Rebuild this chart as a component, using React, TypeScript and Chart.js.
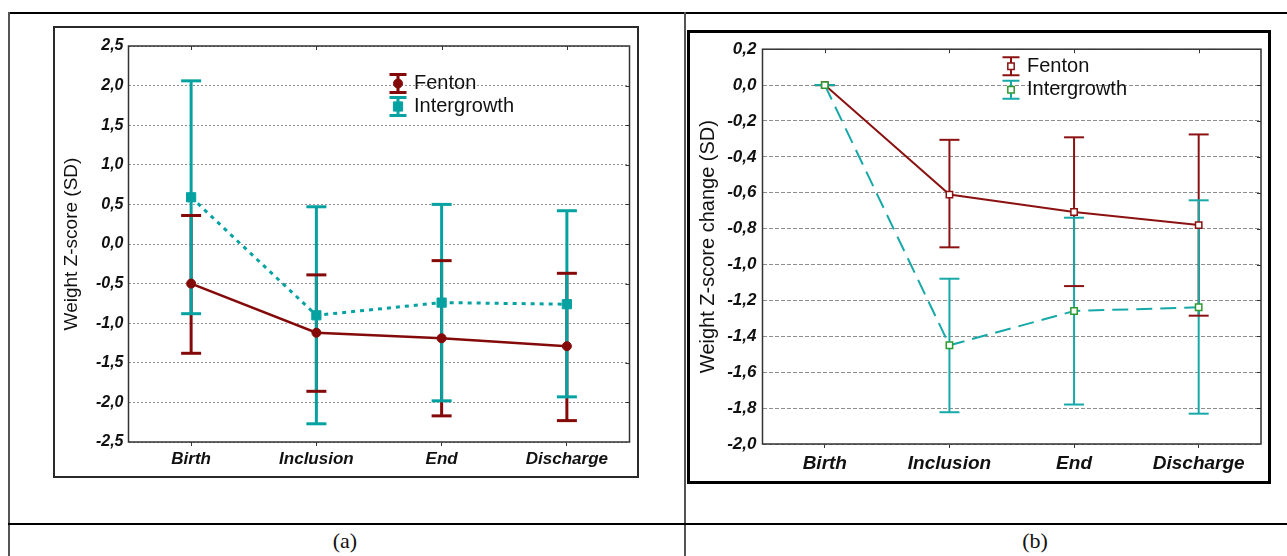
import React, { useEffect, useRef } from 'react';
import { Chart, registerables } from 'chart.js';

Chart.register(...registerables);

// ---------- data ----------
const categories = ['Birth', 'Inclusion', 'End', 'Discharge'];
const legendLabels = ['Fenton', 'Intergrowth'];

// Panel (a): Weight Z-score (SD)
const fentonMeanA = [-0.5, -1.12, -1.19, -1.29];
const fentonUpperA = [0.36, -0.39, -0.21, -0.37];
const fentonLowerA = [-1.38, -1.86, -2.17, -2.23];
const interMeanA = [0.59, -0.9, -0.74, -0.76];
const interUpperA = [2.06, 0.47, 0.5, 0.42];
const interLowerA = [-0.88, -2.27, -1.98, -1.93];
const yTicksA = [-2.5, -2.0, -1.5, -1.0, -0.5, 0.0, 0.5, 1.0, 1.5, 2.0, 2.5];

// Panel (b): Weight Z-score change (SD)
const fentonMeanB = [0, -0.61, -0.707, -0.78];
const fentonUpperB = [0, -0.305, -0.291, -0.275];
const fentonLowerB = [0, -0.904, -1.12, -1.285];
const interMeanB = [0, -1.45, -1.259, -1.238];
const interUpperB = [0, -1.079, -0.739, -0.642];
const interLowerB = [0, -1.823, -1.78, -1.831];
const yTicksB = [-2.0, -1.8, -1.6, -1.4, -1.2, -1.0, -0.8, -0.6, -0.4, -0.2, 0.0, 0.2];

const FONT = '"Liberation Sans", Arial, sans-serif';

type SeriesStyle = {
  color: string;
  markerStroke: string;
  markerFill: string;
  marker: 'circle' | 'rect';
  markerRadius: number;
  markerBorder: number;
  lineWidth: number;
  dash: number[];
  order: number;
};

type PanelProps = {
  width: number;
  height: number;
  yTitle: string;
  yTicks: number[];
  means: number[][];
  uppers: number[][];
  lowers: number[][];
  styles: SeriesStyle[];
  padTop: number;
  padRight: number;
  yAxisWidth: number;
  xAxisHeight: number;
  tickFont: number;
  xFont: number;
  titleFont: number;
  titlePad: number;
  yTickPad: number;
  xTickPad: number;
  gridDash: number[];
  barWidth: number;
  capHalf: number;
  legendX: number;
  legendY: number;
  legendGap: number;
  legendMarkerScale: number;
};

function fmt(v: number) {
  if (Math.abs(v) < 1e-9) return '0,0';
  return v.toFixed(1).replace('.', ',');
}

function drawMarker(ctx: CanvasRenderingContext2D, x: number, y: number, s: SeriesStyle, scale: number) {
  ctx.save();
  ctx.fillStyle = s.markerFill;
  ctx.strokeStyle = s.markerStroke;
  ctx.lineWidth = s.markerBorder;
  ctx.setLineDash([]);
  ctx.beginPath();
  if (s.marker === 'circle') {
    ctx.arc(x, y, s.markerRadius * scale, 0, Math.PI * 2);
  } else {
    const h = s.markerRadius * Math.SQRT1_2 * scale;
    ctx.rect(x - h, y - h, 2 * h, 2 * h);
  }
  ctx.fill();
  ctx.stroke();
  ctx.restore();
}

function Panel(p: PanelProps) {
  const ref = useRef<HTMLCanvasElement | null>(null);
  useEffect(() => {
    const canvas = ref.current;
    if (!canvas) return;
    const yMin = p.yTicks[0];
    const yMax = p.yTicks[p.yTicks.length - 1];
    const step = p.yTicks[1] - p.yTicks[0];

    const plugin = {
      id: 'errorAndFrame',
      beforeDatasetsDraw(chart: any) {
        const { ctx, scales } = chart;
        const x = scales.x;
        const y = scales.y;
        ctx.save();
        ctx.lineCap = 'butt';
        // vertical bars
        p.styles.forEach((s, k) => {
          ctx.strokeStyle = s.color;
          ctx.lineWidth = p.barWidth;
          p.uppers[k].forEach((u, i) => {
            const px = x.getPixelForValue(i);
            ctx.beginPath();
            ctx.moveTo(px, y.getPixelForValue(u));
            ctx.lineTo(px, y.getPixelForValue(p.lowers[k][i]));
            ctx.stroke();
          });
        });
        // caps
        p.styles.forEach((s, k) => {
          ctx.strokeStyle = s.color;
          ctx.lineWidth = p.barWidth;
          p.uppers[k].forEach((u, i) => {
            const px = x.getPixelForValue(i);
            [u, p.lowers[k][i]].forEach((v) => {
              const py = y.getPixelForValue(v);
              ctx.beginPath();
              ctx.moveTo(px - p.capHalf, py);
              ctx.lineTo(px + p.capHalf, py);
              ctx.stroke();
            });
          });
        });
        ctx.restore();
      },
      afterDraw(chart: any) {
        const { ctx, chartArea: a, scales } = chart;
        const x = scales.x;
        const y = scales.y;
        ctx.save();
        ctx.strokeStyle = '#333';
        ctx.lineWidth = 1.5;
        ctx.strokeRect(a.left, a.top, a.right - a.left, a.bottom - a.top);
        ctx.lineWidth = 1;
        ctx.beginPath();
        categories.forEach((_, i) => {
          const px = Math.round(x.getPixelForValue(i)) + 0.5;
          ctx.moveTo(px, a.top);
          ctx.lineTo(px, a.top + 4);
        });
        p.yTicks.slice(1, -1).forEach((v) => {
          const py = Math.round(y.getPixelForValue(v)) + 0.5;
          ctx.moveTo(a.right, py);
          ctx.lineTo(a.right - 4, py);
        });
        ctx.stroke();
        // legend
        p.styles.forEach((s, k) => {
          const cx = a.left + p.legendX;
          const cy = a.top + p.legendY + k * p.legendGap;
          ctx.strokeStyle = s.color;
          ctx.lineWidth = p.barWidth;
          ctx.beginPath();
          ctx.moveTo(cx, cy - 9);
          ctx.lineTo(cx, cy + 9);
          ctx.moveTo(cx - 8.5, cy - 9);
          ctx.lineTo(cx + 8.5, cy - 9);
          ctx.moveTo(cx - 8.5, cy + 9);
          ctx.lineTo(cx + 8.5, cy + 9);
          ctx.stroke();
          drawMarker(ctx, cx, cy, s, p.legendMarkerScale);
          ctx.fillStyle = '#111';
          ctx.font = `20px ${FONT}`;
          ctx.textAlign = 'left';
          ctx.textBaseline = 'middle';
          ctx.fillText(legendLabels[k], cx + 16, cy);
        });
        ctx.restore();
      },
    };

    const chart = new Chart(canvas, {
      type: 'line',
      data: {
        labels: categories,
        datasets: p.styles.map((s, k) => ({
          label: legendLabels[k],
          data: p.means[k],
          borderColor: s.color,
          borderWidth: s.lineWidth,
          borderDash: s.dash,
          fill: false,
          tension: 0,
          order: s.order,
          pointStyle: s.marker,
          pointRadius: s.markerRadius,
          pointBorderWidth: s.markerBorder,
          pointBackgroundColor: s.markerFill,
          pointBorderColor: s.markerStroke,
        })),
      },
      options: {
        animation: false,
        responsive: false,
        events: [],
        devicePixelRatio: 1,
        layout: { padding: { top: p.padTop, right: p.padRight, left: 0, bottom: 0 } },
        plugins: { legend: { display: false }, tooltip: { enabled: false }, title: { display: false } },
        scales: {
          x: {
            type: 'category',
            offset: true,
            afterFit: (sc: any) => {
              sc.height = p.xAxisHeight;
            },
            grid: { display: true, drawOnChartArea: false, drawTicks: true, tickLength: 4, color: '#333', lineWidth: 1 },
            border: { display: false },
            ticks: {
              color: '#111',
              padding: p.xTickPad,
              maxRotation: 0,
              autoSkip: false,
              font: { family: FONT, size: p.xFont, weight: 'bold', style: 'italic' },
            },
          },
          y: {
            type: 'linear',
            min: yMin,
            max: yMax,
            afterFit: (sc: any) => {
              sc.width = p.yAxisWidth;
            },
            grid: { display: true, drawTicks: false, color: '#8e8e8e', lineWidth: 1 },
            border: { display: false, dash: p.gridDash },
            title: {
              display: true,
              text: p.yTitle,
              color: '#111',
              padding: { top: p.titlePad, bottom: 0 },
              font: { family: FONT, size: p.titleFont, lineHeight: 1 },
            },
            ticks: {
              stepSize: step,
              color: '#111',
              padding: p.yTickPad,
              font: { family: FONT, size: p.tickFont, weight: 'bold', style: 'italic' },
              callback: (v: any) => fmt(Number(v)),
            },
          },
        },
      },
      plugins: [plugin],
    } as any);
    return () => chart.destroy();
  }, []);
  return (
    <canvas
      ref={ref}
      width={p.width}
      height={p.height}
      style={{ position: 'absolute', left: 0, top: 0, width: p.width, height: p.height, display: 'block' }}
    />
  );
}

const RED_A = '#840a0a';
const TEAL_A = '#06a2a2';
const RED_B = '#8c1212';
const TEAL_B = '#17a8a8';
const GREEN_B = '#2c9a2c';

export default function App() {
  const line = (style: React.CSSProperties) => <div style={{ position: 'absolute', ...style }} />;
  return (
    <div
      style={{
        position: 'fixed',
        left: 0,
        top: 0,
        width: 1287,
        height: 556,
        background: '#fff',
        overflow: 'hidden',
      }}
    >
      {line({ left: 8, top: 12, width: 1279, height: 2, background: '#000' })}
      {line({ left: 8, top: 12, width: 2, height: 544, background: '#555' })}
      {line({ left: 684, top: 12, width: 2, height: 544, background: '#555' })}
      {line({ left: 8, top: 523, width: 1279, height: 2, background: '#000' })}

      <div
        style={{
          position: 'absolute',
          left: 53,
          top: 26,
          width: 586,
          height: 452,
          border: '2px solid #2a2a2a',
          boxSizing: 'border-box',
        }}
      >
        <Panel
          width={582}
          height={448}
          yTitle="Weight Z-score (SD)"
          yTicks={yTicksA}
          means={[fentonMeanA, interMeanA]}
          uppers={[fentonUpperA, interUpperA]}
          lowers={[fentonLowerA, interLowerA]}
          styles={[
            { color: RED_A, markerStroke: RED_A, markerFill: RED_A, marker: 'circle', markerRadius: 4.5, markerBorder: 1, lineWidth: 2.5, dash: [], order: 0 },
            { color: TEAL_A, markerStroke: TEAL_A, markerFill: TEAL_A, marker: 'rect', markerRadius: 6.5, markerBorder: 1, lineWidth: 3, dash: [4, 5], order: 1 },
          ]}
          padTop={18}
          padRight={7}
          yAxisWidth={73.5}
          xAxisHeight={34}
          tickFont={16}
          xFont={17}
          titleFont={19}
          titlePad={7.5}
          yTickPad={5}
          xTickPad={3}
          gridDash={[2, 2]}
          barWidth={3}
          capHalf={10}
          legendX={269.5}
          legendY={37.5}
          legendGap={23}
          legendMarkerScale={1}
        />
      </div>

      <div
        style={{
          position: 'absolute',
          left: 687,
          top: 30,
          width: 584,
          height: 454,
          border: '3px solid #000',
          boxSizing: 'border-box',
        }}
      >
        <Panel
          width={578}
          height={448}
          yTitle="Weight Z-score change (SD)"
          yTicks={yTicksB}
          means={[fentonMeanB, interMeanB]}
          uppers={[fentonUpperB, interUpperB]}
          lowers={[fentonLowerB, interLowerB]}
          styles={[
            { color: RED_B, markerStroke: RED_B, markerFill: '#fff', marker: 'rect', markerRadius: 4.5, markerBorder: 1.5, lineWidth: 2, dash: [], order: 1 },
            { color: TEAL_B, markerStroke: GREEN_B, markerFill: '#fff', marker: 'rect', markerRadius: 4.5, markerBorder: 1.5, lineWidth: 2, dash: [16, 8], order: 0 },
          ]}
          padTop={14}
          padRight={7}
          yAxisWidth={72.5}
          xAxisHeight={37}
          tickFont={17}
          xFont={19}
          titleFont={20}
          titlePad={8}
          yTickPad={6}
          xTickPad={4.5}
          gridDash={[4, 2]}
          barWidth={2}
          capHalf={10}
          legendX={248.5}
          legendY={17}
          legendGap={23.5}
          legendMarkerScale={1}
        />
      </div>

      <div
        style={{
          position: 'absolute',
          left: 245,
          width: 200,
          top: 527,
          textAlign: 'center',
          fontFamily: '"Liberation Serif", "DejaVu Serif", serif',
          fontSize: 22,
          lineHeight: '28px',
          color: '#111',
        }}
      >
        (a)
      </div>
      <div
        style={{
          position: 'absolute',
          left: 935,
          width: 200,
          top: 527,
          textAlign: 'center',
          fontFamily: '"Liberation Serif", "DejaVu Serif", serif',
          fontSize: 22,
          lineHeight: '28px',
          color: '#111',
        }}
      >
        (b)
      </div>
    </div>
  );
}
